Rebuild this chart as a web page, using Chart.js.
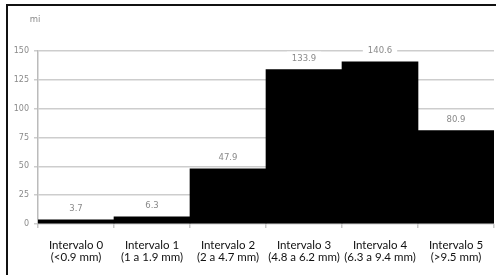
<!DOCTYPE html>
<html>
<head>
<meta charset="utf-8">
<script src="https://cdn.jsdelivr.net/npm/chart.js@4/dist/chart.umd.min.js"></script>
<style>
  html, body { margin: 0; padding: 0; background: #fff; }
  #wrap { position: relative; width: 496px; height: 275px; overflow: hidden; }
  #frame { position: absolute; left: 6px; top: 4px; width: 600px; height: 400px;
           border-left: 2px solid #111; border-top: 2px solid #111; box-sizing: border-box; }
  #chart_box { position: absolute; left: 0; top: 0; width: 496px; height: 275px; }
</style>
</head>
<body>
<div id="wrap">
  <div id="frame"></div>
  <div id="chart_box"><canvas id="chart-bars"></canvas></div>
</div>
<script>
// categories (two-line labels) and values
const categories = [
    ['Intervalo 0', '(<0.9 mm)'],
    ['Intervalo 1', '(1 a 1.9 mm)'],
    ['Intervalo 2', '(2 a 4.7 mm)'],
    ['Intervalo 3', '(4.8 a 6.2 mm)'],
    ['Intervalo 4', '(6.3 a 9.4 mm)'],
    ['Intervalo 5', '(>9.5 mm)']
];
const values = [3.7, 6.3, 47.9, 133.9, 140.6, 80.9];
const yTicks = [0, 25, 50, 75, 100, 125, 150];
const unitLabel = 'mi';

const GRAY = '#8a8a8a';

// value labels on white boxes + unit text
const valueLabels = {
    id: 'valueLabels',
    afterDatasetsDraw(chart) {
        const ctx = chart.ctx;
        const meta = chart.getDatasetMeta(0);
        ctx.save();
        ctx.font = '8.5px "DejaVu Sans"';
        ctx.textAlign = 'center';
        ctx.textBaseline = 'middle';
        meta.data.forEach((bar, i) => {
            const txt = values[i].toFixed(1);
            const y = bar.y - 11;
            const w = ctx.measureText(txt).width + 10;
            ctx.fillStyle = '#fff';
            ctx.fillRect(bar.x - w / 2, y - 7, w, 14);
            ctx.fillStyle = GRAY;
            ctx.fillText(txt, bar.x, y);
        });
        const area = chart.chartArea;
        ctx.fillText(unitLabel, area.left - 3, 20);
        ctx.restore();
    }
};

const ctx = document.getElementById('chart-bars').getContext('2d');
new Chart(ctx, {
    type: 'bar',
    data: {
        labels: categories,
        datasets: [{
            data: values,
            backgroundColor: '#000',
            borderWidth: 0,
            barPercentage: 1.0,
            categoryPercentage: 1.0
        }]
    },
    options: {
        responsive: true,
        maintainAspectRatio: false,
        animation: false,
        layout: { padding: { left: 0, right: 2, top: 51, bottom: 0 } },
        plugins: { legend: { display: false }, tooltip: { enabled: false } },
        scales: {
            x: {
                grid: { drawOnChartArea: false, drawTicks: true, tickLength: 4, offset: true, color: '#c8c8c8', lineWidth: 1.5 },
                border: { display: false },
                ticks: { color: '#111', font: { family: 'Lato', size: 11.5, lineHeight: 1.05 }, padding: 11, maxRotation: 0, autoSkip: false },
                afterFit(scale) { scale.height = 51; }
            },
            y: {
                min: 0,
                max: 150,
                afterBuildTicks(scale) { scale.ticks = yTicks.map(v => ({ value: v })); },
                grid: { color: '#cdcdcd', lineWidth: 1.5, drawTicks: true, tickLength: 4 },
                border: { display: true, color: '#bbb', width: 1.5 },
                ticks: { color: GRAY, font: { family: 'DejaVu Sans', size: 8 }, padding: 5 },
                afterFit(scale) { scale.width = 38; }
            }
        }
    },
    plugins: [valueLabels]
});
</script>
</body>
</html>
